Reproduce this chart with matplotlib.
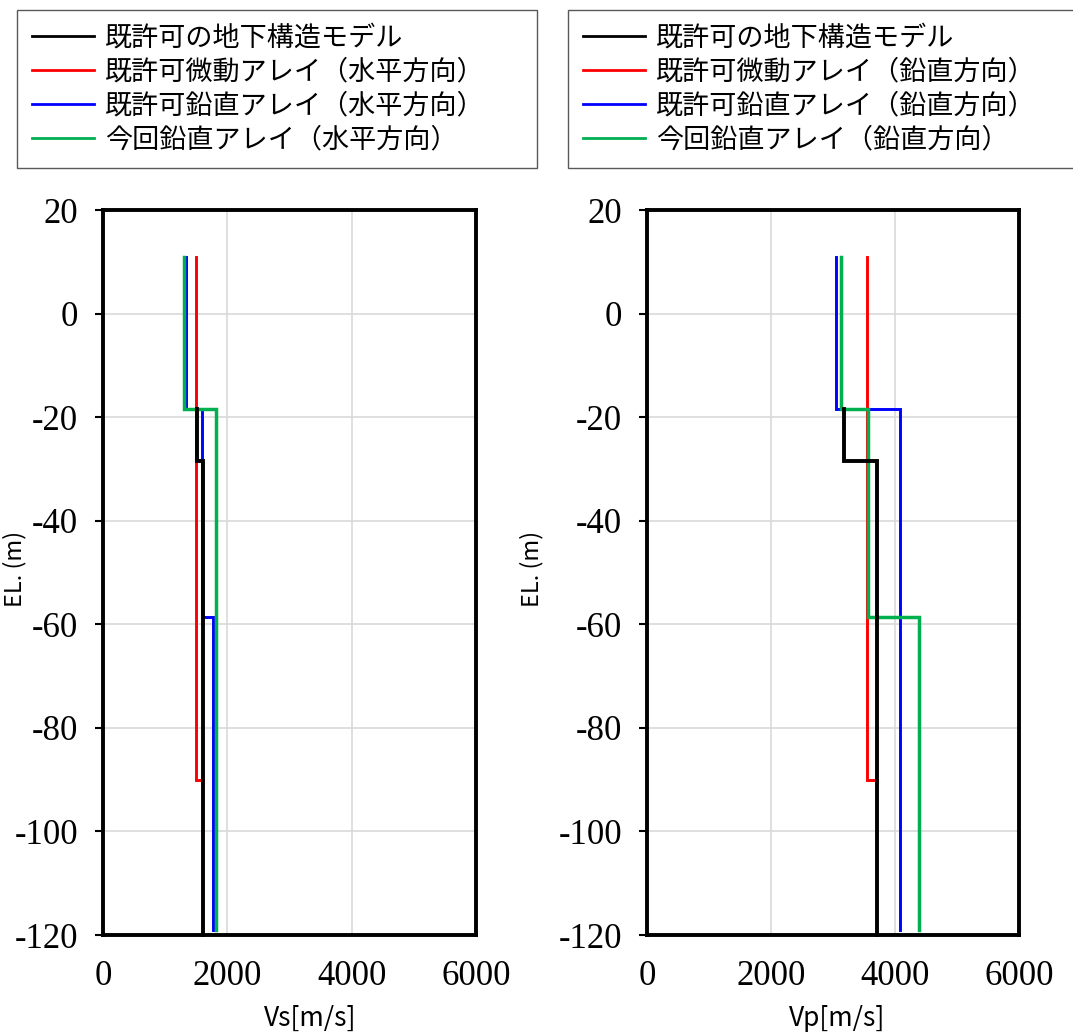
import matplotlib
matplotlib.use("Agg")
import matplotlib.pyplot as plt
import numpy as np

plt.rcParams["font.family"] = ["Noto Sans CJK JP", "DejaVu Sans"]
plt.rcParams["axes.unicode_minus"] = False

# layer boundaries (EL, m) and velocities (m/s); a zero-thickness layer gives a horizontal step
LABELS_H = ["既許可の地下構造モデル", "既許可微動アレイ（水平方向）",
            "既許可鉛直アレイ（水平方向）", "今回鉛直アレイ（水平方向）"]
LABELS_V = ["既許可の地下構造モデル", "既許可微動アレイ（鉛直方向）",
            "既許可鉛直アレイ（鉛直方向）", "今回鉛直アレイ（鉛直方向）"]

vs_black_el = [-18.5, -28.5, -120]
vs_black = [1510, 1605]
vs_red_el = [11, -90, -90]
vs_red = [1500, 1605]
vs_blue_el = [11, -18.5, -58.5, -119]
vs_blue = [1340, 1600, 1770]
vs_green_el = [11, -18.5, -119]
vs_green = [1300, 1814]

vp_black_el = [-18.5, -28.5, -120]
vp_black = [3180, 3700]
vp_red_el = [11, -90, -90]
vp_red = [3540, 3700]
vp_blue_el = [11, -18.5, -119]
vp_blue = [3045, 4070]
vp_green_el = [11, -18.5, -58.5, -119]
vp_green = [3130, 3560, 4385]

X_TICKS = [0, 2000, 4000, 6000]
Y_TICKS = [20, 0, -20, -40, -60, -80, -100, -120]

COLORS = ["#000000", "#FF0000", "#0000FF", "#00B050"]
WIDTHS = [2.8, 2.1, 2.1, 2.5]
ZORDERS = [6, 3, 4, 5]


def step_xy(el, vel):
    xs, ys = [], []
    for i, v in enumerate(vel):
        xs += [v, v]
        ys += [el[i], el[i + 1]]
    return np.array(xs), np.array(ys)


def draw_panel(ax, profiles, xlabel):
    for (el, vel), c, lw, z in zip(profiles, COLORS, WIDTHS, ZORDERS):
        x, y = step_xy(el, vel)
        ax.plot(x, y, color=c, linewidth=lw, zorder=z, clip_on=False,
                solid_joinstyle="miter")
    ax.set_xlim(0, 6000)
    ax.set_ylim(-120, 20)
    ax.set_xticks(X_TICKS)
    ax.set_yticks(Y_TICKS)
    ax.grid(True, color="#D9D9D9", linewidth=1.2, zorder=0)
    ax.set_axisbelow(True)
    for sp in ax.spines.values():
        sp.set_linewidth(2.8)
        sp.set_color("black")
        sp.set_zorder(7)
    ax.tick_params(axis="x", length=0, pad=18)
    ax.tick_params(axis="y", length=6, width=1.5, direction="out", pad=12)
    for lab in ax.get_xticklabels() + ax.get_yticklabels():
        lab.set_fontfamily("Liberation Serif")
        lab.set_fontsize(25)
    ax.set_xlabel(xlabel, fontsize=19)
    ax.set_ylabel("EL. (m)", fontsize=17)


fig = plt.figure(figsize=(10.73, 10.32), dpi=100)
ax1 = fig.add_axes([103 / 1073, 1 - 935 / 1032, 373 / 1073, 725 / 1032])
ax2 = fig.add_axes([647 / 1073, 1 - 935 / 1032, 372.5 / 1073, 725 / 1032])

draw_panel(ax1, [(vs_black_el, vs_black), (vs_red_el, vs_red),
                 (vs_blue_el, vs_blue), (vs_green_el, vs_green)], "Vs[m/s]")
draw_panel(ax2, [(vp_black_el, vp_black), (vp_red_el, vp_red),
                 (vp_blue_el, vp_blue), (vp_green_el, vp_green)], "Vp[m/s]")

ax1.xaxis.set_label_coords(0.555, -0.096)
ax2.xaxis.set_label_coords(0.51, -0.096)
ax1.yaxis.set_label_coords(-0.205, 0.505)
ax2.yaxis.set_label_coords(-0.277, 0.505)

for labels, x0, x1 in [(LABELS_H, 17, 537), (LABELS_V, 568, 1080)]:
    handles = [plt.Line2D([], [], color=c, linewidth=2.0) for c in COLORS]
    leg = fig.legend(handles, labels, loc="upper left",
                     bbox_to_anchor=(x0 / 1073, 1 - 166 / 1032,
                                     (x1 - x0) / 1073, 156 / 1032),
                     mode="expand", fontsize=19.5, handlelength=2.3,
                     handletextpad=0.4, borderpad=0.55, labelspacing=0.25,
                     borderaxespad=0, fancybox=False, framealpha=1)
    leg.get_frame().set_edgecolor("#595959")
    leg.get_frame().set_linewidth(1.0)

fig.savefig("out.png", dpi=100)
